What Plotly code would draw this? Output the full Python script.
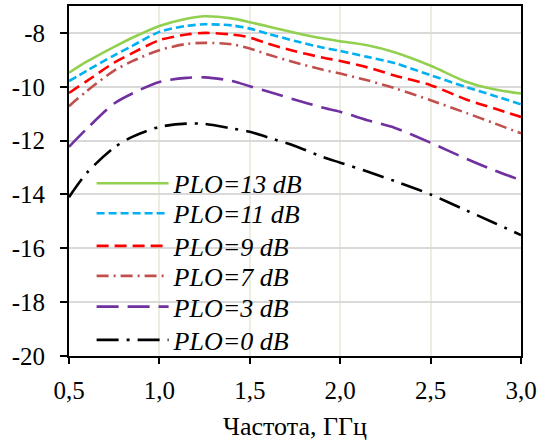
import plotly.graph_objects as go

freq = [0.5, 0.6, 0.75, 0.85, 1.0, 1.15, 1.25, 1.4, 1.5, 1.6, 1.75, 1.9, 2.0, 2.15, 2.3, 2.5, 2.7, 2.85, 3.0]
plo13 = [-9.48, -9.06, -8.52, -8.18, -7.74, -7.47, -7.38, -7.46, -7.60, -7.76, -7.99, -8.20, -8.31, -8.46, -8.72, -9.22, -9.82, -10.09, -10.25]
plo11 = [-9.79, -9.40, -8.83, -8.48, -7.96, -7.74, -7.68, -7.72, -7.84, -8.03, -8.30, -8.54, -8.67, -8.89, -9.12, -9.57, -10.02, -10.33, -10.65]
plo9 = [-10.23, -9.78, -9.10, -8.75, -8.27, -8.06, -8.00, -8.06, -8.17, -8.40, -8.68, -8.91, -9.04, -9.28, -9.58, -9.94, -10.48, -10.80, -11.12]
plo7 = [-10.72, -10.15, -9.40, -9.05, -8.64, -8.41, -8.37, -8.42, -8.58, -8.80, -9.10, -9.36, -9.51, -9.76, -10.05, -10.50, -10.98, -11.35, -11.73]
plo3 = [-12.23, -11.55, -10.62, -10.25, -9.82, -9.67, -9.65, -9.78, -9.98, -10.18, -10.48, -10.77, -10.93, -11.24, -11.52, -12.08, -12.68, -13.10, -13.47]
plo0 = [-14.10, -13.19, -12.26, -11.86, -11.49, -11.37, -11.38, -11.55, -11.67, -11.88, -12.20, -12.60, -12.82, -13.15, -13.50, -14.00, -14.60, -15.05, -15.51]

names = ["PLO=13 dB", "PLO=11 dB", "PLO=9 dB", "PLO=7 dB", "PLO=3 dB", "PLO=0 dB"]

x_tickvals = [0.5, 1.0, 1.5, 2.0, 2.5, 3.0]
x_ticktext = ["0,5", "1,0", "1,5", "2,0", "2,5", "3,0"]
y_tickvals = [-20, -18, -16, -14, -12, -10, -8]
y_ticktext = ["-20", "-18", "-16", "-14", "-12", "-10", "-8"]

series = [plo13, plo11, plo9, plo7, plo3, plo0]
colors = ["#92D050", "#00B0F0", "#FF0000", "#C0504D", "#7030A0", "#000000"]
dashes = ["solid", "8px,4px", "12px,6px", "12px,5px,2px,5px", "22px,9px", "22px,8px,3px,8px"]
legend_ids = ["legend", "legend2", "legend3", "legend4", "legend5", "legend6"]
legend_y = [0.4934, 0.4077, 0.3143, 0.2286, 0.1409, 0.0457]

font_family = "Times New Roman, Tinos, Liberation Serif, DejaVu Serif, serif"

fig = go.Figure()
for name, ys, c, d, lid in zip(names, series, colors, dashes, legend_ids):
    fig.add_trace(go.Scatter(
        x=freq, y=ys, name=name, mode="lines", legend=lid,
        line=dict(color=c, width=2.6, dash=d, shape="spline", smoothing=0.8),
    ))

legend_layouts = {}
for lid, ly in zip(legend_ids, legend_y):
    legend_layouts[lid] = dict(
        x=0.05, y=ly, xanchor="left", yanchor="middle",
        bgcolor="rgba(0,0,0,0)", borderwidth=0,
        font=dict(family=font_family, size=26, color="black", style="italic"),
        itemwidth=72,
    )

fig.update_layout(
    width=540, height=441,
    autosize=False,
    margin=dict(l=69, r=19, t=6, b=85, autoexpand=False),
    paper_bgcolor="white", plot_bgcolor="white",
    font=dict(family=font_family, size=25, color="black"),
    showlegend=True,
    xaxis=dict(
        range=[0.5, 3.0],
        tickvals=x_tickvals, ticktext=x_ticktext,
        showgrid=True, gridcolor="#EEECE1", gridwidth=2,
        showline=True, linecolor="black", linewidth=2, mirror=True,
        ticks="outside", ticklen=6, tickwidth=2, tickcolor="black",
        ticklabelstandoff=5,
        title=dict(text="Частота, ГГц", standoff=18, font=dict(family=font_family, size=26)),
        tickfont=dict(family=font_family, size=25),
        zeroline=False,
    ),
    yaxis=dict(
        range=[-20, -7],
        tickvals=y_tickvals, ticktext=y_ticktext,
        showgrid=True, gridcolor="#D9D9D9", gridwidth=2,
        showline=True, linecolor="black", linewidth=2, mirror=True,
        ticks="outside", ticklen=7, tickwidth=2, tickcolor="black",
        ticklabelstandoff=10,
        tickfont=dict(family=font_family, size=25),
        zeroline=False,
    ),
    **legend_layouts,
)

fig.write_html("out.html", config={"displayModeBar": False},
               post_script="document.body.style.margin='0px';")
